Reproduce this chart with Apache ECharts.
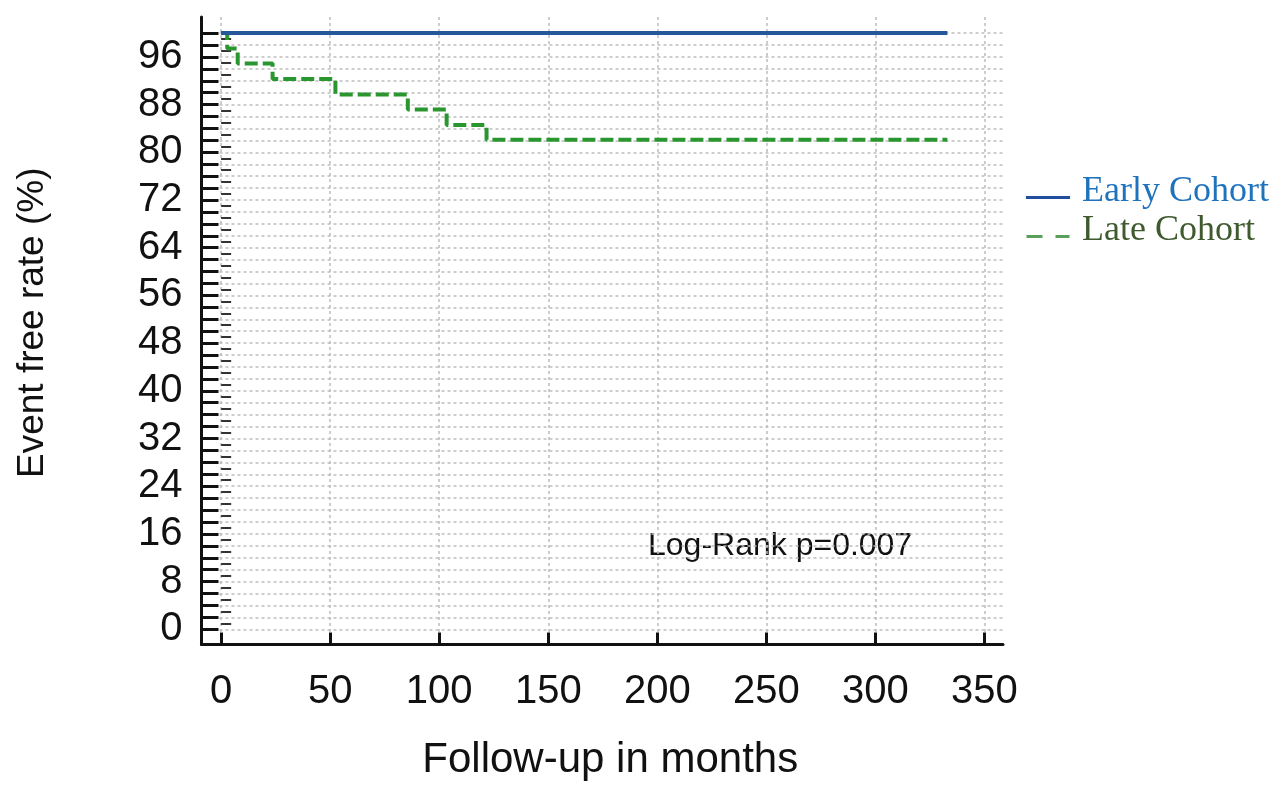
<!DOCTYPE html>
<html>
<head>
<meta charset="utf-8">
<script src="https://cdn.jsdelivr.net/npm/echarts@6/dist/echarts.min.js"></script>
<style>html,body{margin:0;padding:0;background:#fff;}#c{width:1280px;height:795px;}</style>
</head>
<body>
<div id="c"></div>
<script>
// Data
var earlyTimes = [0, 333];
var earlyValues = [100, 100];
var lateTimes = [0, 2.8, 7.6, 23.6, 52.4, 85.6, 103.4, 121.7, 333];
var lateValues = [100, 97.4, 94.9, 92.3, 89.7, 87.2, 84.6, 82.1, 82.1];
var xTickValues = [0, 50, 100, 150, 200, 250, 300, 350];
var yLabelValues = [0, 8, 16, 24, 32, 40, 48, 56, 64, 72, 80, 88, 96];
var yMajorTicks = [0, 2, 4, 6, 8, 10, 12, 14, 16, 18, 20, 22, 24, 26, 28, 30, 32, 34, 36, 38, 40, 42, 44, 46, 48, 50, 52, 54, 56, 58, 60, 62, 64, 66, 68, 70, 72, 74, 76, 78, 80, 82, 84, 86, 88, 90, 92, 94, 96, 98, 100];
var yMinorTicks = [1, 3, 5, 7, 9, 11, 13, 15, 17, 19, 21, 23, 25, 27, 29, 31, 33, 35, 37, 39, 41, 43, 45, 47, 49, 51, 53, 55, 57, 59, 61, 63, 65, 67, 69, 71, 73, 75, 77, 79, 81, 83, 85, 87, 89, 91, 93, 95, 97, 99];
var seriesNames = ['Early Cohort', 'Late Cohort'];
var annotation = 'Log-Rank p=0.007';

function pairs(xs, ys) { return xs.map(function (x, i) { return [x, ys[i]]; }); }

var chart = echarts.init(document.getElementById('c'));
var gridStyle = { color: '#bdbdbd', type: [3, 3], width: 1.5 };
var yMin = -2.55, yMax = 102.7;

chart.setOption({
  animation: false,
  backgroundColor: '#ffffff',
  grid: { left: 201.5, right: 277, top: 17, bottom: 150.5, containLabel: false },
  xAxis: {
    type: 'value', min: -9, max: 358.5,
    name: 'Follow-up in months', nameLocation: 'middle', nameGap: 95,
    nameTextStyle: { fontFamily: 'Liberation Sans', fontSize: 42, color: '#111', padding: [0, 0, 0, 16] },
    axisLine: { show: true, onZero: false, lineStyle: { color: '#111', width: 3 } },
    axisTick: { show: true, inside: true, length: 12, customValues: xTickValues, lineStyle: { color: '#111', width: 3 } },
    axisLabel: { customValues: xTickValues, fontFamily: 'Liberation Sans', fontSize: 40, color: '#111', margin: 27 },
    splitLine: { show: true, lineStyle: gridStyle }
  },
  yAxis: [{
    type: 'value', min: yMin, max: yMax, position: 'left',
    name: 'Event free rate (%)', nameLocation: 'middle', nameGap: 150, nameRotate: 90,
    nameTextStyle: { fontFamily: 'Liberation Sans', fontSize: 37, color: '#111', padding: [0, 0, 0, 16] },
    axisLine: { show: true, onZero: false, lineStyle: { color: '#111', width: 3 } },
    axisTick: { show: true, inside: true, length: 17, customValues: yMajorTicks, lineStyle: { color: '#111', width: 3 } },
    axisLabel: { customValues: yLabelValues, fontFamily: 'Liberation Sans', fontSize: 40, color: '#111', margin: 19, padding: [8, 0, 0, 0] },
    splitLine: { show: true, lineStyle: gridStyle }
  }, {
    type: 'value', min: yMin, max: yMax, position: 'left', offset: 0,
    axisLine: { show: false },
    axisTick: { show: true, inside: true, length: 10, customValues: yMinorTicks, lineStyle: { color: '#333', width: 2 } },
    axisLabel: { show: false },
    splitLine: { show: false }
  }],
  legend: {
    orient: 'vertical', left: 1021, top: 169, itemWidth: 44, itemHeight: 14, itemGap: 3,
    textStyle: { fontFamily: 'Liberation Serif', fontSize: 36, padding: [0, 0, 0, 7] },
    data: [
      { name: seriesNames[0], icon: 'path://M0,-11 L0.01,-11 L0,-11 Z M0,0 L44,0 L44,3 L0,3 Z', itemStyle: { color: '#1f4e9c' }, textStyle: { color: '#1f73bd' } },
      { name: seriesNames[1], icon: 'path://M0,-11 L0.01,-11 L0,-11 Z M0,0 L16,0 L16,3 L0,3 Z M29,0 L43,0 L43,3 L29,3 Z', itemStyle: { color: '#5aa05a' }, textStyle: { color: '#3e5a2e' } }
    ]
  },
  graphic: [{
    type: 'text', left: 648, top: 530,
    style: { text: annotation, fontFamily: 'Liberation Sans', fontSize: 32, fill: '#111' }
  }],
  series: [{
    name: seriesNames[0], type: 'line', data: pairs(earlyTimes, earlyValues),
    showSymbol: false, symbol: 'none', z: 5,
    lineStyle: { color: '#27579b', width: 4 }, itemStyle: { color: '#27579b' }
  }, {
    name: seriesNames[1], type: 'line', step: 'end', data: pairs(lateTimes, lateValues),
    showSymbol: false, symbol: 'none', z: 4,
    lineStyle: { color: '#2a962f', width: 4, type: [13, 5] }, itemStyle: { color: '#2a962f' }
  }]
});
</script>
</body>
</html>
